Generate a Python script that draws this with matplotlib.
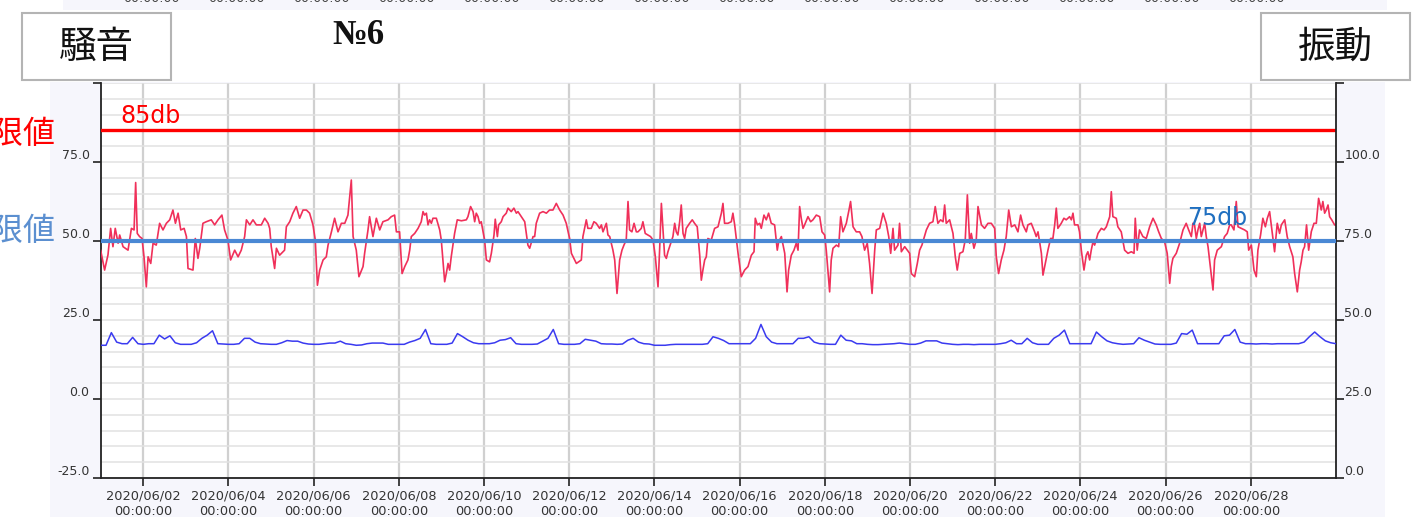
import pandas as pd
import matplotlib
matplotlib.use("Agg")
import matplotlib.pyplot as plt
import matplotlib.dates as mdates
from matplotlib.patches import Rectangle

plt.rcParams['font.family'] = ['DejaVu Sans', 'Noto Sans CJK JP']

start = pd.Timestamp('2020-06-01')

# 騒音 (dB): 06/01 00:00 からの経過時間 (h) と値
noise_hours = [
    0, 2.2, 4.1, 5.6, 6.9, 8.2, 9.8, 10.7, 12.6, 15.4, 17.3, 18.8, 19.7, 20.6, 21.9, 23.3,
    24.4, 25.7, 26.7, 28.2, 29.5, 31.3, 33.2, 35.1, 37.0, 38.9, 40.7, 42.1, 43.6, 45.1, 47.0,
    48.3, 49.2, 52.0, 53.3, 54.8, 55.8, 57.6, 59.5, 62.3, 64.2, 66.1, 68.3, 69.8, 71.7,
    73.2, 75.5, 77.4, 79.2, 81.1, 82.1, 84.0, 85.8, 87.7, 90.5, 92.4, 94.3, 95.2,
    96.1, 98.0, 99.0, 100.8, 103.6, 104.6, 106.5, 108.3, 110.2, 112.1, 114.0, 115.9, 117.7, 119.6,
    120.9, 122.1, 123.4, 125.3, 127.1, 128.1, 130.0, 131.8, 133.7, 135.6, 137.5, 139.3, 141.2, 142.2,
    144.0, 145.5, 147.8, 148.7, 150.6, 151.5, 153.4, 155.3, 157.2, 159.0, 161.9, 163.7, 165.6, 166.6,
    168.4, 169.8, 171.3, 173.1, 174.1, 175.0, 176.9, 178.8, 180.6, 181.6, 182.5, 183.5, 184.4,
    185.3, 186.3, 187.2, 189.1, 191.0, 191.9, 192.8, 193.8, 194.7, 195.7, 196.6, 197.5, 199.4,
    200.9, 203.2, 206.0, 206.9, 208.4, 209.8, 210.7, 211.6, 212.6, 213.5, 214.4, 216.3, 217.3,
    219.1, 220.1, 221.6, 222.3, 223.5, 224.2, 225.7, 226.7, 228.5, 229.5, 231.3, 232.8, 234.2,
    235.1, 237.0, 238.9, 240.7, 241.7, 243.6, 244.5, 245.4, 247.3, 249.2, 251.1, 252.9, 254.8,
    256.7, 258.6, 260.5, 262.3, 264.2, 265.2, 267.0, 268.0, 270.8, 271.7, 273.6, 274.5, 276.4,
    277.9, 279.2, 281.1, 282.1, 283.0, 284.9, 285.8, 286.8, 288.6, 289.6, 290.9, 292.4, 293.7,
    294.8, 296.1, 297.1, 298.0, 299.3, 300.5, 301.8, 302.7, 304.6, 305.5, 306.8, 308.3, 309.8,
    311.2, 312.5, 314.0, 314.9, 315.9, 317.7, 318.7, 319.6, 321.5, 322.4, 323.4, 324.3, 325.2,
    326.2, 327.1, 328.1, 329.0, 329.9, 331.8, 333.3, 334.6, 336.1, 337.5, 338.4, 339.3, 340.3,
    341.2, 342.1, 344.0, 345.9, 347.8, 349.7, 350.6, 351.5, 353.4, 355.3, 356.2, 357.2, 359.1,
    360.9, 362.8, 364.7, 366.6, 368.1, 368.8, 370.0, 371.3, 372.2, 373.7, 375.0, 376.3, 377.8,
    379.7, 381.2, 382.0, 383.5, 385.4, 386.7, 387.6, 389.1, 390.6, 391.9, 392.9, 393.8, 394.7,
    395.7, 396.6, 398.5, 400.0, 401.3, 403.2, 405.1, 406.4, 407.9, 408.8, 410.7, 411.6, 412.6,
    414.5, 415.8, 416.9, 418.2, 420.1, 421.6, 422.5, 423.9, 425.7, 427.6, 428.9, 430.4, 431.9,
    433.2, 434.6, 436.1, 437.0, 438.9, 440.8, 442.6, 444.0, 445.1, 446.4, 447.3, 449.2, 450.1,
    451.1, 453.0, 454.5, 455.8, 456.7, 458.6, 460.1, 461.4, 462.7, 465.2, 467.0, 468.9, 470.2,
    471.7, 473.2, 474.6, 475.5, 476.4, 478.3, 480.2, 481.5, 482.6, 484.0, 485.8, 487.1, 488.3,
    489.6, 490.5, 492.0, 493.3, 494.3, 496.2, 498.0, 499.9, 501.8, 503.7, 504.6, 505.9, 507.4,
    508.9, 510.2, 511.6, 513.1, 515.0, 516.8, 518.3, 519.6, 521.5, 522.4, 524.3, 526.2, 527.1,
    528.1, 529.0, 530.0, 530.9, 532.2, 533.7, 535.2, 536.5, 537.5, 538.4, 539.3, 541.2, 542.7,
    544.0, 545.9, 546.9, 547.8, 548.7, 550.6, 551.5, 552.5, 554.0, 555.3, 556.2, 557.2, 558.1,
    559.1, 560.0, 561.9, 563.8, 565.3, 566.6, 568.5, 569.4, 570.3, 572.2, 573.1, 575.0, 576.9,
    578.8, 580.7, 582.2, 582.9, 584.0, 585.3, 587.2, 589.1, 591.0, 592.9, 594.7, 596.1, 597.6,
    599.4, 600.9, 602.3, 603.2, 604.1, 606.0, 607.9, 609.8, 611.6, 613.0, 614.5, 615.4, 616.3,
    617.3, 618.2, 619.2, 620.1, 622.0, 622.9, 623.9, 625.4, 626.7, 627.6, 629.1, 630.4, 631.4,
    633.2, 634.7, 636.1, 637.0, 638.5, 639.8, 640.8, 642.6, 644.5, 646.0, 646.8, 648.3, 649.8,
    651.1, 652.0, 653.5, 654.8, 656.2, 657.3, 658.6, 659.9, 661.4, 662.9, 664.2, 665.2, 667.1,
    668.5, 669.9, 671.7, 672.7, 674.2, 675.5, 676.4, 677.4, 678.3, 679.4, 680.6, 682.1, 683.6,
    684.9, 686.2, 687.7, 688.6, 689.6, 690.5, 691.5, 692.4, 693.7, 695.2, 696.0,
]
noise_db = [
    47.0, 40.8, 45.6, 54.0, 48.2, 54.0, 49.3, 51.9, 48.2, 47.1, 54.0, 53.5, 68.5, 52.4, 51.4, 50.8,
    45.0, 35.5, 45.0, 42.9, 49.3, 48.7, 55.6, 53.5, 55.6, 56.7, 59.8, 55.6, 58.8, 53.5, 54.0,
    51.4, 41.3, 40.8, 50.8, 44.5, 47.7, 55.6, 56.1, 56.7, 55.1, 56.7, 58.2, 53.5, 50.3,
    44.0, 47.1, 45.0, 47.1, 51.4, 56.7, 55.1, 56.7, 55.1, 55.1, 57.2, 55.6, 54.0,
    48.2, 41.3, 47.7, 45.5, 47.1, 54.5, 56.1, 58.8, 60.9, 57.2, 59.8, 59.8, 58.8, 55.1,
    50.3, 36.0, 40.8, 44.0, 45.0, 48.7, 52.9, 57.2, 52.9, 55.6, 55.6, 58.2, 69.3, 51.4,
    47.1, 38.7, 41.9, 46.1, 53.5, 57.7, 51.4, 57.2, 53.5, 56.1, 56.7, 57.7, 58.2, 52.9,
    52.9, 39.7, 41.9, 44.0, 47.1, 51.4, 52.4, 54.0, 56.1, 59.3, 58.2, 58.8, 55.1,
    56.7, 55.6, 57.2, 57.2, 53.5, 50.3, 44.0, 37.1, 39.7, 42.9, 40.8, 45.0, 52.4,
    56.7, 56.4, 56.7, 57.7, 60.9, 59.3, 56.1, 58.8, 57.7, 55.6, 56.1, 50.3, 44.0,
    43.4, 46.1, 51.9, 56.9, 51.4, 55.1, 56.1, 57.7, 58.8, 60.4, 59.3, 60.4, 58.8,
    59.3, 57.7, 56.1, 48.7, 47.7, 51.4, 51.4, 55.6, 58.8, 59.3, 58.8, 59.8, 59.8,
    61.9, 59.8, 58.2, 55.6, 50.8, 46.1, 44.0, 42.9, 44.0, 51.4, 56.7, 54.0, 54.0,
    56.1, 55.6, 54.0, 55.1, 52.9, 55.6, 51.9, 51.4, 47.1, 44.0, 33.4, 44.0, 47.1,
    48.7, 50.3, 62.5, 53.5, 52.9, 55.6, 52.9, 52.9, 54.0, 56.1, 52.4, 51.9, 51.4,
    50.3, 45.0, 35.5, 47.1, 61.9, 45.5, 44.5, 46.6, 49.8, 51.4, 55.6, 52.9, 51.9,
    56.1, 61.4, 52.4, 50.8, 54.0, 55.6, 56.7, 55.6, 54.5, 45.5, 37.6, 40.8, 44.0,
    45.0, 50.8, 50.3, 54.0, 54.5, 58.8, 61.9, 55.6, 55.6, 56.1, 58.8, 55.1, 46.1,
    38.7, 40.8, 41.9, 45.5, 46.6, 57.2, 55.1, 55.6, 54.0, 58.2, 56.7, 58.8, 55.6,
    55.1, 47.1, 49.8, 51.4, 46.1, 33.9, 40.8, 45.5, 47.1, 49.3, 47.1, 60.9, 57.2,
    54.0, 55.1, 57.7, 56.1, 56.7, 58.2, 57.7, 52.9, 51.9, 47.1, 33.9, 44.0, 47.7,
    48.7, 48.2, 57.7, 52.9, 55.6, 59.8, 62.5, 54.5, 52.9, 52.9, 51.4, 47.1, 49.3,
    42.9, 33.4, 47.1, 53.5, 54.0, 58.8, 55.6, 51.4, 46.1, 54.0, 47.1, 48.7, 55.6,
    46.6, 48.2, 47.1, 46.1, 39.7, 38.7, 42.9, 47.1, 48.7, 53.5, 55.6, 56.1, 60.9,
    55.6, 56.7, 56.1, 61.4, 55.6, 56.7, 52.4, 45.0, 40.8, 46.1, 46.6, 50.3, 64.6,
    49.3, 52.4, 47.7, 50.3, 60.9, 55.1, 54.0, 55.6, 55.6, 54.0, 45.0, 39.7, 44.0,
    47.1, 51.4, 59.8, 54.5, 55.1, 52.9, 58.2, 55.1, 52.9, 55.1, 55.6, 52.9, 51.4,
    52.9, 49.8, 46.1, 39.2, 42.9, 47.1, 50.8, 50.8, 55.1, 60.4, 54.0, 55.6, 57.2,
    56.7, 57.7, 56.7, 58.8, 55.1, 55.1, 52.9, 47.1, 40.8, 45.5, 46.6, 44.0, 47.1,
    49.8, 48.7, 52.4, 54.0, 53.5, 54.5, 57.7, 65.6, 57.7, 57.2, 54.5, 52.9, 47.1,
    46.1, 46.6, 46.1, 57.2, 47.1, 53.5, 51.4, 50.8, 54.5, 57.2, 55.1, 52.9, 50.8,
    49.8, 46.1, 36.6, 41.9, 44.5, 46.1, 49.3, 53.5, 55.6, 53.5, 51.4, 55.6, 55.1,
    50.8, 53.5, 55.6, 51.4, 55.6, 51.4, 48.2, 40.8, 34.5, 44.0, 47.1, 47.7, 48.2,
    51.4, 52.4, 55.1, 55.1, 53.5, 62.5, 54.5, 54.0, 53.5, 52.9, 47.1, 48.7, 40.8,
    38.7, 47.1, 51.9, 57.2, 54.5, 57.2, 59.3, 53.5, 46.6, 55.6, 52.4, 55.1, 56.7,
    51.4, 48.2, 45.0, 39.7, 33.9, 40.8, 43.4, 47.1, 48.2, 55.1, 47.1, 53.0, 55.6,
    55.6, 63.5, 59.8, 62.5, 58.8, 59.8, 61.4, 57.7, 56.6, 55.1, 55.0,
]

# 振動 (dB): 3時間ごと, 右軸
vib_db = [
    42.0, 42.0, 46.0, 43.0, 42.5, 42.5, 44.5, 42.5,
    42.3, 42.5, 42.5, 45.2, 44.0, 45.0, 42.8, 42.3,
    42.3, 42.3, 42.8, 44.2, 45.2, 46.6, 42.5, 42.4,
    42.3, 42.3, 42.5, 44.2, 44.2, 43.0, 42.5, 42.4,
    42.3, 42.3, 42.8, 43.5, 43.3, 43.3, 42.7, 42.4,
    42.3, 42.3, 42.5, 42.7, 42.7, 43.3, 42.5, 42.3,
    42.0, 42.1, 42.5, 42.7, 42.7, 42.7, 42.3, 42.3,
    42.3, 42.3, 43.0, 43.5, 44.2, 47.0, 42.5, 42.3,
    42.3, 42.3, 42.7, 45.7, 44.7, 43.6, 42.8, 42.5,
    42.5, 42.5, 42.8, 43.6, 43.8, 44.4, 42.5, 42.3,
    42.3, 42.3, 42.4, 43.3, 44.2, 47.0, 42.5, 42.3,
    42.3, 42.3, 42.5, 43.9, 43.6, 43.3, 42.5, 42.4,
    42.4, 42.3, 42.4, 43.6, 44.2, 43.0, 42.5, 42.4,
    42.0, 42.0, 42.0, 42.2, 42.3, 42.3, 42.3, 42.3,
    42.3, 42.3, 42.5, 44.7, 44.2, 43.5, 42.5, 42.5,
    42.5, 42.5, 42.5, 44.2, 48.6, 44.7, 43.0, 42.5,
    42.5, 42.5, 42.5, 44.2, 44.2, 44.7, 43.0, 42.5,
    42.4, 42.3, 42.3, 45.2, 43.6, 43.4, 42.5, 42.5,
    42.3, 42.2, 42.2, 42.3, 42.4, 42.5, 42.7, 42.5,
    42.3, 42.3, 42.7, 43.4, 43.4, 43.4, 42.7, 42.5,
    42.3, 42.2, 42.3, 42.3, 42.2, 42.3, 42.3, 42.3,
    42.3, 42.5, 42.8, 43.6, 42.5, 42.5, 44.2, 42.8,
    42.3, 42.3, 42.3, 44.2, 45.2, 46.8, 42.5, 42.5,
    42.5, 42.5, 42.5, 46.2, 44.7, 43.4, 42.8, 42.5,
    42.3, 42.4, 42.5, 44.4, 43.6, 43.0, 42.4, 42.3,
    42.3, 42.3, 42.7, 45.7, 45.5, 46.8, 42.5, 42.5,
    42.5, 42.5, 42.5, 45.0, 45.2, 47.0, 43.0, 42.5,
    42.5, 42.4, 42.5, 42.5, 42.4, 42.5, 42.5, 42.5,
    42.5, 42.5, 43.0, 44.7, 46.2, 44.7, 43.4, 42.8,
    42.5,
]

noise_limit = 85
vib_limit = 75
noise_times = start + pd.to_timedelta(noise_hours, unit='h')
vib_times = pd.date_range(start, periods=len(vib_db), freq='3h')

W, H = 1414, 517
fig = plt.figure(figsize=(W / 100, H / 100), dpi=100)
fig.patch.set_facecolor('white')

# 背景 (薄い紫)
fig.patches.append(Rectangle((50 / W, 0), 1335 / W, 435 / H, transform=fig.transFigure,
                             facecolor='#f6f6fc', edgecolor='none', zorder=-1))
fig.patches.append(Rectangle((63 / W, 1 - 10 / H), 1324 / W, 10 / H, transform=fig.transFigure,
                             facecolor='#f6f6fc', edgecolor='none', zorder=-1))
# 上の切れたグラフの目盛り
for cx in [151, 236, 321, 406, 491, 576, 661, 746, 831, 916, 1001, 1086, 1171, 1256]:
    fig.text(cx / W, 1 + 1 / H, '00:00:00', ha='center', va='center', fontsize=9, color='#444')

ax = fig.add_axes([100.7 / W, 39 / H, 1235.3 / W, 395 / H])
ax.set_facecolor('white')
ax.set_zorder(1)

ax.plot(noise_times, noise_db, color='#f0305a', lw=1.2, zorder=3)
ax.axhline(noise_limit, color='#ff0000', lw=2.4, zorder=4)
ax.text(pd.Timestamp('2020-06-01 11:00'), noise_limit + 0.8, '85db', color='#ff0000',
        fontsize=17, va='bottom', ha='left')

ax.set_xlim(start, pd.Timestamp('2020-06-30'))
ax.set_ylim(-25, 100)
ax.set_yticks([-25, 0, 25, 50, 75, 100])
ax.set_yticklabels(['-25.0', '0.0', '25.0', '50.0', '75.0', ''])
ax.set_yticks(range(-25, 101, 5), minor=True)
ax.xaxis.set_major_locator(mdates.DayLocator(bymonthday=range(2, 30, 2)))
ax.xaxis.set_major_formatter(mdates.DateFormatter('%Y/%m/%d\n%H:%M:%S'))
ax.tick_params(axis='y', which='major', length=6, width=1.2, color='#222', labelsize=9,
               labelcolor='#333', pad=2)
ax.tick_params(axis='y', which='minor', length=0)
ax.tick_params(axis='x', length=6, width=1.2, color='#222', labelsize=9.3, labelcolor='#333', pad=2)
for lbl in ax.get_xticklabels():
    lbl.set_linespacing(1.3)
for lbl in ax.get_yticklabels():
    lbl.set_va('bottom')

ax.grid(axis='y', which='both', color='#e2e2e2', lw=1.1, zorder=0)
ax.grid(axis='x', which='major', color='#d0d0d0', lw=1.6, zorder=0)
ax.set_axisbelow(True)
ax.spines['top'].set_visible(False)
ax.spines['right'].set_visible(False)
for s in ['left', 'bottom']:
    ax.spines[s].set_color('#222')
    ax.spines[s].set_linewidth(1.3)

ax2 = ax.twinx()
ax2.plot(vib_times, vib_db, color='#3a3af0', lw=1.1, zorder=3)
ax2.axhline(vib_limit, color='#4a88d4', lw=3.0, zorder=4)
ax2.text(pd.Timestamp('2020-06-26 12:00'), vib_limit + 3.4, '75db', color='#1f6fc0',
         fontsize=17, va='bottom', ha='left')
ax2.set_ylim(0, 125)
ax2.set_yticks([0, 25, 50, 75, 100, 125])
ax2.set_yticklabels(['0.0', '25.0', '50.0', '75.0', '100.0', ''])
ax2.tick_params(axis='y', length=6, width=1.2, color='#222', labelsize=9, labelcolor='#333', pad=0)
for lbl in ax2.get_yticklabels():
    lbl.set_va('bottom')
for s in ['top', 'left', 'bottom']:
    ax2.spines[s].set_visible(False)
ax2.spines['right'].set_color('#222')
ax2.spines['right'].set_linewidth(1.3)

# 見出しボックス
for x0, label in [(22, '騒音'), (1261, '振動')]:
    fig.patches.append(Rectangle((x0 / W, 1 - 80 / H), 149 / W, 67 / H, transform=fig.transFigure,
                                 facecolor='white', edgecolor='#b4b4b4', lw=1.5, zorder=2))
    fig.text((x0 + 74.5) / W, 1 - 47 / H, label, ha='center', va='center', fontsize=27,
             color='#111', family=['Noto Sans CJK JP'], zorder=3)

fig.text(358 / W, 1 - 36 / H, '№6', ha='center', va='center', fontsize=25, color='#111',
         family=['Liberation Serif', 'DejaVu Serif'], fontweight='bold')

# 左端の切れた文字
fig.text(55 / W, 1 - 134 / H, '上限値', ha='right', va='center', fontsize=23, color='#ff0000',
         family=['Noto Sans CJK JP'])
fig.text(55 / W, 1 - 231 / H, '上限値', ha='right', va='center', fontsize=23, color='#5b8fd0',
         family=['Noto Sans CJK JP'])

fig.savefig('out.png', dpi=100)
